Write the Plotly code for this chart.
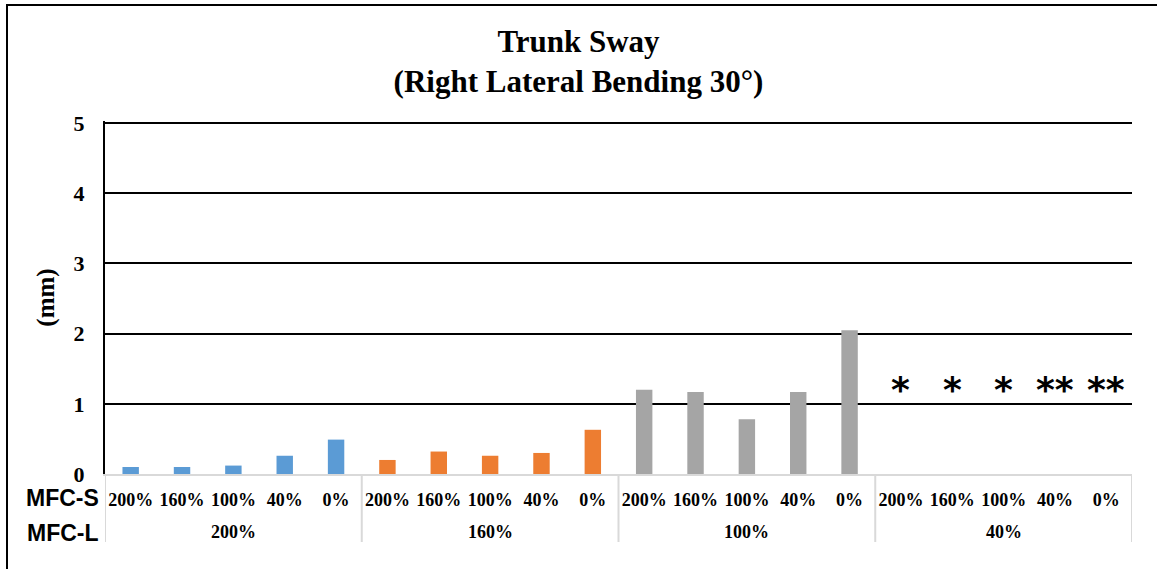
import plotly.graph_objects as go

# ---- data ----
mfc_s = ["200%", "160%", "100%", "40%", "0%"]
mfc_l = ["200%", "160%", "100%", "40%"]
sway_l200 = [0.10, 0.10, 0.12, 0.26, 0.49]
sway_l160 = [0.20, 0.32, 0.26, 0.30, 0.63]
sway_l100 = [1.20, 1.17, 0.78, 1.17, 2.05]
sway_l40 = [None, None, None, None, None]
marks_l40 = ["*", "*", "*", "**", "**"]
mark_level = [1.29, 1.29, 1.29, 1.29, 1.29]
colors = ["#5B9BD5", "#ED7D31", "#A5A5A5", "#FFC000"]
y_ticks = [0, 1, 2, 3, 4, 5]

W, H = 1157, 569
L, R, T, B = 105, 25, 121, 95
pw, ph = W - L - R, H - T - B
y_axis_px = T + ph  # pixel row of the x axis line

serif = "Liberation Serif, Times New Roman, serif"
sans = "Liberation Sans, Arial, sans-serif"


def key(l, s):
    return f"{l}|{s}"


all_keys = [key(l, s) for l in mfc_l for s in mfc_s]
all_text = [s for l in mfc_l for s in mfc_s]

fig = go.Figure()
for grp, vals, col in zip(mfc_l, [sway_l200, sway_l160, sway_l100, sway_l40], colors):
    fig.add_trace(go.Bar(
        x=[key(grp, s) for s in mfc_s],
        y=vals,
        width=0.32,
        marker=dict(color=col, line=dict(width=0)),
        showlegend=False,
        hoverinfo="x+y",
    ))


def py(px):
    """page pixel row -> paper y"""
    return (y_axis_px - px) / ph


annotations = []
# asterisks over the 40% group
for s, m, lv in zip(mfc_s, marks_l40, mark_level):
    annotations.append(dict(
        x=key(mfc_l[3], s), y=lv, xref="x", yref="y", text=m, showarrow=False,
        xanchor="center", yanchor="middle", yshift=-6,
        font=dict(family="DejaVu Sans", size=36, color="#000000", weight="bold"),
    ))
# second-level (MFC-L) group labels
for l in mfc_l:
    annotations.append(dict(
        x=key(l, mfc_s[2]), y=py(532), xref="x", yref="paper", text=f"<b>{l}</b>",
        showarrow=False, xanchor="center", yanchor="middle",
        font=dict(family=serif, size=18, color="#000000"),
    ))
# row headers
for txt, row in [("MFC-S", 498), ("MFC-L", 533)]:
    annotations.append(dict(
        text=f"<b>{txt}</b>", xref="paper", yref="paper",
        x=(101 - L) / pw, y=py(row), xanchor="right", yanchor="middle", showarrow=False,
        font=dict(family=sans, size=23, color="#000000"),
    ))

shapes = []
# group dividers below the axis
n = len(mfc_s)
for i in range(len(mfc_l) + 1):
    xb = i * n - 0.5
    shapes.append(dict(type="line", xref="x", yref="paper",
                       x0=xb, x1=xb, y0=0, y1=py(542),
                       line=dict(color="#D9D9D9", width=2)))
# chart border (top and left)
shapes.append(dict(type="line", xref="paper", yref="paper",
                   x0=(7 - L) / pw, x1=(W + 5 - L) / pw, y0=py(5), y1=py(5),
                   line=dict(color="#000000", width=2)))
shapes.append(dict(type="line", xref="paper", yref="paper",
                   x0=(7 - L) / pw, x1=(7 - L) / pw, y0=py(4), y1=py(H + 5),
                   line=dict(color="#000000", width=2)))

fig.update_layout(
    width=W, height=H,
    margin=dict(l=L, r=R, t=T, b=B),
    paper_bgcolor="white",
    plot_bgcolor="white",
    barmode="overlay",
    title=dict(
        text="<b>Trunk Sway</b><br><b>(Right Lateral Bending 30°)</b>",
        x=0.5, xanchor="center", xref="container",
        y=1 - 52 / H, yanchor="top", yref="container",
        font=dict(family=serif, size=31, color="#000000"),
    ),
    xaxis=dict(
        type="category",
        categoryorder="array", categoryarray=all_keys,
        tickmode="array", tickvals=all_keys, ticktext=[f"<b>{t}</b>" for t in all_text],
        range=[-0.5, len(all_keys) - 0.5],
        showline=True, linecolor="#D9D9D9", linewidth=2,
        showgrid=False, zeroline=False,
        ticks="",
        ticklabelstandoff=8,
        tickfont=dict(family=serif, size=18, color="#000000"),
    ),
    yaxis=dict(
        range=[0, 5.03],
        tickvals=y_ticks,
        showline=True, linecolor="#000000", linewidth=2,
        showgrid=True, gridcolor="#000000", gridwidth=2,
        zeroline=False,
        ticks="",
        ticklabelstandoff=14,
        tickfont=dict(family=serif, size=22, color="#000000", weight="bold"),
        title=dict(text="<b>(mm)</b>", font=dict(family=serif, size=25, color="#000000"), standoff=12),
    ),
    annotations=annotations,
    shapes=shapes,
)

fig.write_html("out.html", config={"displayModeBar": False},
               post_script="document.body.style.margin='0px';")
